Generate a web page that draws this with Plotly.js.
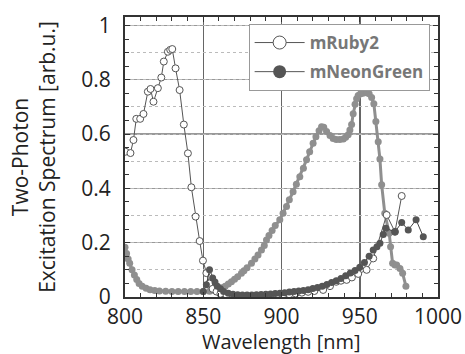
<!DOCTYPE html>
<html>
<head>
<meta charset="utf-8">
<script src="https://cdn.plot.ly/plotly-3.0.1.min.js"></script>
<style>html,body{margin:0;padding:0;background:#fff;}#chart{width:465px;height:354px;}</style>
</head>
<body>
<div id="chart"></div>
<script>
// mRuby2 (open circles)
const rubyWl = [800.3, 803.5, 805.4, 807.2, 809.7, 811.8, 814.6, 816.3, 818.2, 821, 823.2, 824.8, 827.4, 828.9, 830.2, 832.3, 834.9, 837.6, 840.2, 842.4, 845.1, 847.7, 849.8, 852, 854, 856, 858.5, 861, 865, 869, 873, 877, 881, 885, 889, 893, 897, 901, 905, 909, 913, 917, 921, 926.6, 931, 935, 938, 941.6, 945, 949, 954.4, 958.6, 967.2, 972.5, 976.8];
const rubyVal = [0.535, 0.53, 0.578, 0.656, 0.656, 0.674, 0.756, 0.766, 0.719, 0.769, 0.808, 0.867, 0.903, 0.91, 0.913, 0.842, 0.762, 0.635, 0.529, 0.404, 0.296, 0.206, 0.134, 0.088, 0.05, 0.03, 0.02, 0.012, 0.006, 0.003, 0.002, 0.001, 0.001, 0.002, 0.003, 0.004, 0.006, 0.008, 0.010, 0.013, 0.016, 0.019, 0.022, 0.026, 0.04, 0.056, 0.06, 0.063, 0.072, 0.085, 0.1, 0.142, 0.302, 0.24, 0.372];

// mNeonGreen (dark filled circles)
const neonWl = [850, 852, 854, 856, 857.5, 859, 861, 863, 866, 869, 872, 875, 878, 881, 884, 887, 890, 893, 896, 899, 902, 905, 908, 911, 914, 917, 920, 923, 926, 929, 932, 935, 938, 941, 944, 947, 950, 953, 956, 958.6, 961, 962.9, 965, 966.7, 972.5, 976.8, 981, 986, 990.6];
const neonVal = [0.02, 0.045, 0.1, 0.07, 0.055, 0.04, 0.03, 0.02, 0.014, 0.01, 0.008, 0.007, 0.007, 0.007, 0.008, 0.009, 0.01, 0.011, 0.013, 0.014, 0.016, 0.018, 0.02, 0.022, 0.024, 0.027, 0.031, 0.035, 0.04, 0.046, 0.053, 0.06, 0.068, 0.078, 0.088, 0.098, 0.11, 0.127, 0.15, 0.173, 0.185, 0.198, 0.23, 0.253, 0.24, 0.274, 0.247, 0.284, 0.222];

// light grey spectrum (not in legend)
const greyWl = [800, 801, 802, 803, 804.5, 806, 807.5, 809, 811, 813.5, 816, 819, 822, 826, 830, 834, 838, 842, 846, 850, 854, 857, 860, 862, 864, 866, 868, 870, 872, 874.4, 876, 878, 880.8, 883, 885, 887.2, 889, 890.4, 892, 894, 896, 898.9, 901, 903.2, 905, 907.4, 909.5, 911.7, 914, 916, 918, 920.2, 922, 924, 925.6, 927, 928.8, 931, 933, 935, 937.3, 939.5, 941, 942.6, 943.7, 944.8, 945.8, 947, 948, 949, 950.5, 952, 954.4, 956, 957.6, 959, 960.3, 961.8, 962.9, 964, 966, 968.8, 969.7, 971, 972.5, 973.6, 975.7, 977.4, 979.5];
const greyVal = [0.183, 0.16, 0.14, 0.124, 0.1, 0.081, 0.064, 0.05, 0.04, 0.032, 0.027, 0.024, 0.022, 0.021, 0.02, 0.02, 0.02, 0.02, 0.02, 0.02, 0.021, 0.024, 0.028, 0.034, 0.04, 0.048, 0.056, 0.065, 0.075, 0.087, 0.097, 0.108, 0.124, 0.14, 0.155, 0.173, 0.19, 0.21, 0.226, 0.245, 0.263, 0.284, 0.308, 0.333, 0.358, 0.388, 0.415, 0.443, 0.474, 0.505, 0.535, 0.566, 0.59, 0.612, 0.627, 0.625, 0.609, 0.595, 0.584, 0.58, 0.58, 0.582, 0.588, 0.597, 0.615, 0.635, 0.675, 0.71, 0.73, 0.742, 0.748, 0.75, 0.752, 0.748, 0.735, 0.712, 0.646, 0.572, 0.508, 0.413, 0.308, 0.235, 0.185, 0.124, 0.118, 0.118, 0.105, 0.087, 0.04];

const seriesNames = ['mRuby2', 'mNeonGreen'];
const xTickVals = [800, 850, 900, 950, 1000];
const yTickVals = [0, 0.2, 0.4, 0.6, 0.8, 1];
const yTickText = ['0', '0.2', '0.4', '0.6', '0.8', '1'];
const xTitle = 'Wavelength [nm]';
const yTitle = 'Two-Photon<br>Excitation Spectrum [arb.u.]';

const font = "'Open Sans', 'DejaVu Sans', sans-serif";

const rubyMarker = {symbol: 'circle', color: '#fff', line: {color: '#555', width: 1}};
const neonMarker = {color: '#555'};

const traces = [
  {x: [800], y: [0], yaxis: 'y2', mode: 'markers', marker: {opacity: 0}, showlegend: false, hoverinfo: 'skip'},
  {x: greyWl, y: greyVal, mode: 'lines+markers', name: 'spectrum', showlegend: false,
   line: {color: '#8f8f8f', width: 3}, marker: {color: '#8f8f8f', size: 7}},
  {x: rubyWl, y: rubyVal, mode: 'lines+markers', name: seriesNames[0], showlegend: false,
   line: {color: '#555', width: 1}, marker: Object.assign({size: 7}, rubyMarker)},
  {x: neonWl, y: neonVal, mode: 'lines+markers', name: seriesNames[1], showlegend: false,
   line: {color: '#444', width: 1}, marker: Object.assign({size: 7}, neonMarker)},
  // legend entries (larger symbols, as in the reference legend)
  {x: [null], y: [null], mode: 'lines+markers', name: seriesNames[0], legendgroup: 'a',
   line: {color: '#555', width: 1}, marker: Object.assign({size: 13}, rubyMarker)},
  {x: [null], y: [null], mode: 'lines+markers', name: seriesNames[1], legendgroup: 'b',
   line: {color: '#555', width: 1}, marker: Object.assign({size: 13}, neonMarker)}
];

const layout = {
  width: 465, height: 354,
  margin: {l: 125, r: 27, t: 17, b: 57},
  paper_bgcolor: '#fff', plot_bgcolor: '#fff',
  font: {family: font, color: '#222'},
  showlegend: true,
  legend: {x: 0.395, y: 0.975, xanchor: 'left', yanchor: 'top', bgcolor: '#fff',
    bordercolor: '#999', borderwidth: 1, font: {size: 17, color: '#777', weight: 'bold'},
    itemwidth: 50, tracegroupgap: 4},
  xaxis: {
    range: [800, 1000], tickvals: xTickVals, ticktext: xTickVals.map(String),
    ticks: 'inside', ticklen: 5, tickcolor: '#333',
    showline: true, linecolor: '#333', linewidth: 2, mirror: 'ticks',
    showgrid: true, gridcolor: '#666', gridwidth: 1.5,
    minor: {dtick: 10, ticks: 'inside', ticklen: 4, tickcolor: '#333', showgrid: false},
    zeroline: false,
    tickfont: {size: 21, family: font, color: '#222'}
  },
  yaxis: {
    range: [0, 1.031], tickvals: yTickVals, ticktext: yTickText,
    ticks: 'inside', ticklen: 5, tickcolor: '#333',
    showline: true, linecolor: '#333', linewidth: 2, mirror: 'ticks',
    showgrid: true, gridcolor: '#999', gridwidth: 1.5,
    minor: {dtick: 0.05, ticks: 'inside', ticklen: 4, tickcolor: '#333', showgrid: false},
    zeroline: false,
    ticklabelstandoff: 8,
    tickfont: {size: 21, family: font, color: '#222'},
    title: {text: yTitle, font: {size: 21, family: font, color: '#222'}, standoff: 20}
  },
  yaxis2: {
    overlaying: 'y', range: [0, 1.031], dtick: 0.1, showticklabels: false, ticks: '',
    showgrid: true, gridcolor: '#bbb', griddash: 'dot', gridwidth: 1, zeroline: false, showline: false
  },
  annotations: [
    {text: xTitle, xref: 'paper', yref: 'paper', x: 0.5, y: 0, xanchor: 'center', yanchor: 'top',
     yshift: -29, showarrow: false, font: {size: 20, family: font, color: '#222'}}
  ]
};

Plotly.newPlot('chart', traces, layout, {displayModeBar: false, staticPlot: true});
</script>
</body>
</html>
